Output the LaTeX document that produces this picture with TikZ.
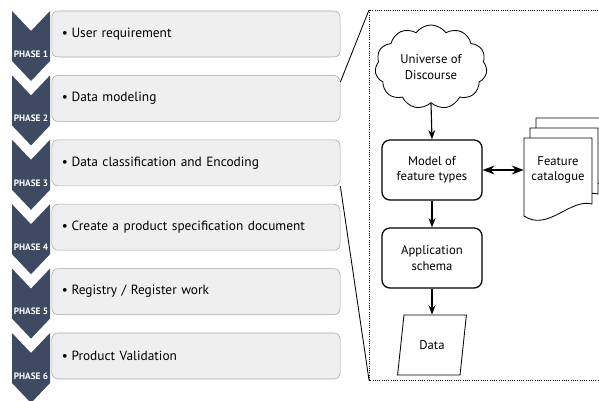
\documentclass[tikz,border=0pt]{standalone}
\usepackage{fontspec}
\setmainfont{PT Sans}
\usepackage{tikz}
\usetikzlibrary{arrows.meta,shapes.symbols,shapes.geometric,calc}
\definecolor{phaseblue}{HTML}{3E4A62}
\definecolor{boxgray}{HTML}{EFEFEF}
\definecolor{boxline}{HTML}{A8A8A8}

\begin{document}
\begin{tikzpicture}[x=0.025cm,y=-0.025cm,>=Stealth,
  phasebox/.style={draw=boxline,fill=boxgray,rounded corners=0.15cm,text width=6.7cm,
    align=left,inner xsep=0.25cm,minimum height=1.15cm,font=\fontsize{9.5}{12}\selectfont},
  phaselbl/.style={text=white,inner sep=0,font=\fontsize{6.6}{7}\selectfont\bfseries},
  roundbox/.style={draw,line width=0.9pt,rounded corners=0.2cm,minimum width=2.5cm,
    minimum height=1.5cm,align=center,font=\fontsize{9}{11}\selectfont},
  arr/.style={->,line width=0.8pt},
  dblarr/.style={<->,line width=1.2pt}]
\useasboundingbox (0,0) rectangle (599,401);
\clip (0,0) rectangle (599,401);
% phases
\foreach \i/\txt in {1/User requirement,2/Data modeling,3/Data classification and Encoding,
  4/Create a product specification document,5/{Registry / Register work},6/Product Validation}{
  \pgfmathsetmacro\yy{11+64.4*(\i-1)}
  \fill[phaseblue] (12,\yy) -- (31,\yy+20) -- (50,\yy) -- (50,\yy+50) -- (31,\yy+70) -- (12,\yy+50) -- cycle;
  \node[phaselbl] (lbl\i) at (31,\yy+43) {PHASE \i};
  \node[phasebox] (b\i) at (196,\yy+23) {\textbullet\hspace{2.5pt}\txt};
}
% detail panel
\coordinate (pnw) at (369,10);
\coordinate (psw) at (369,380);
\draw[densely dotted,line width=0.6pt] (605,10) -- (pnw) -- (psw) -- (605,380);
\draw[line width=0.6pt] ($(b2.north east)+(0,7)$) -- (pnw);
\draw[line width=0.6pt] (b3.south east) -- (psw);
\node[cloud,draw,line width=0.6pt,cloud puffs=11,cloud puff arc=110,aspect=1.4,
  minimum width=2.8cm,minimum height=2.1cm,align=center,font=\fontsize{9}{11}\selectfont]
  (uod) at (431,67) {Universe of\\Discourse};
\node[roundbox] (model) at (432,170) {Model of\\feature types};
\node[roundbox] (app) at (432,258) {Application\\schema};
\node[draw,line width=0.6pt,trapezium,trapezium left angle=78,trapezium right angle=102,
  trapezium stretches,minimum width=1.72cm,minimum height=1.5cm,
  font=\fontsize{9}{11}\selectfont] (data) at (432,345) {Data};
\foreach \d in {2,1,0}
  \draw[fill=white,line width=0.6pt,shift={(6*\d,-10*\d)}]
    (524,138) -- (592,138) -- (592,204) .. controls (570,198) and (548,232) .. (524,216) -- cycle;
\node[inner sep=0,minimum width=1.7cm,minimum height=1.5cm,align=center,
  font=\fontsize{9}{11}\selectfont] (cat) at (558,170) {Feature\\catalogue};
\draw[arr] (uod.south) -- (model.north);
\draw[arr] (model) -- (app);
\draw[arr] (app.south) -- (app.south |- data.north);
\draw[dblarr] (model.east) -- (cat.west);
\end{tikzpicture}
\end{document}
